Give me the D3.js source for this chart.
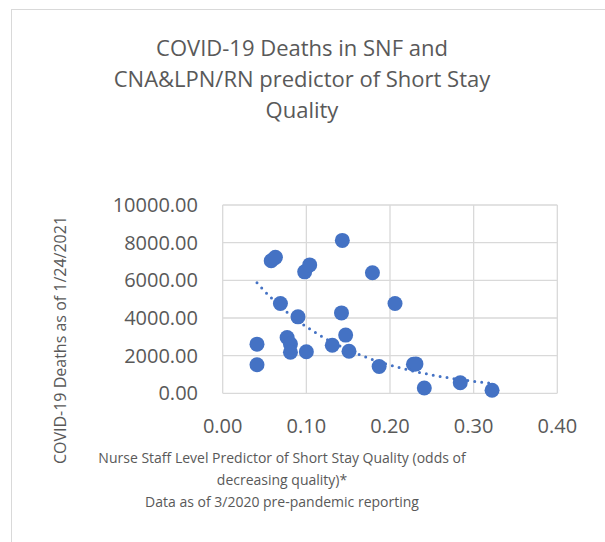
<!DOCTYPE html>
<html lang="en">

<head>
    <meta charset="UTF-8" />
    <script src="https://d3js.org/d3.v7.min.js"></script>
    <title>COVID-19 Deaths in SNF</title>
    <style>
        body { margin: 0; background: #fff; }
        text { font-family: "Open Sans", sans-serif; fill: #595959; }
    </style>
</head>

<body>
    <script>
        const width = 605,
            height = 542

        // data
        const staffPredictor = [0.041, 0.041, 0.058, 0.063, 0.069, 0.077, 0.081, 0.081, 0.090, 0.098, 0.104, 0.100, 0.131,
            0.143, 0.142, 0.147, 0.151, 0.179, 0.206, 0.187, 0.228, 0.231, 0.241, 0.284, 0.322]
        const deaths = [2610, 1520, 7040, 7220, 4770, 2960, 2620, 2180, 4060, 6450, 6820, 2210, 2550,
            8120, 4270, 3090, 2230, 6400, 4770, 1420, 1540, 1560, 280, 560, 160]
        const xTicks = [0, 0.1, 0.2, 0.3, 0.4]
        const yTicks = [0, 2000, 4000, 6000, 8000, 10000]
        const titleLines = ['COVID-19 Deaths in SNF and', 'CNA&LPN/RN predictor of Short Stay', 'Quality']
        const xTitleLines = ['Nurse Staff Level Predictor of Short Stay Quality (odds of', 'decreasing quality)*',
            'Data as of 3/2020 pre-pandemic reporting']
        const yTitle = 'COVID-19 Deaths as of 1/24/2021'

        const points = staffPredictor.map((x, i) => ({ x: x, y: deaths[i] }))

        const svg = d3.select('body').append('svg').attr('width', width).attr('height', height)

        // chart frame (cut off on the right and bottom)
        svg.append('rect').attr('x', 11.5).attr('y', 9.5).attr('width', 700).attr('height', 600)
            .attr('fill', 'none').attr('stroke', '#d9d9d9')

        const plot = { left: 222.7, right: 557.3, top: 205, bottom: 393.3 }

        const x = d3.scaleLinear().domain([0, 0.4]).range([plot.left, plot.right])
        const y = d3.scaleLinear().domain([0, 10000]).range([plot.bottom, plot.top])

        // gridlines
        svg.append('g').selectAll('line').data(yTicks).enter().append('line')
            .attr('x1', plot.left).attr('x2', plot.right)
            .attr('y1', d => y(d)).attr('y2', d => y(d))
            .attr('stroke', '#d9d9d9').attr('stroke-width', 1.3)
        svg.append('g').selectAll('line').data(xTicks).enter().append('line')
            .attr('y1', plot.top).attr('y2', plot.bottom)
            .attr('x1', d => x(d)).attr('x2', d => x(d))
            .attr('stroke', '#d9d9d9').attr('stroke-width', 1.3)

        // tick labels
        svg.append('g').selectAll('text').data(yTicks).enter().append('text')
            .attr('x', 198).attr('y', d => y(d) + 7)
            .attr('text-anchor', 'end').attr('font-size', 20)
            .text(d => d3.format('.2f')(d))
        svg.append('g').selectAll('text').data(xTicks).enter().append('text')
            .attr('x', d => x(d)).attr('y', 433)
            .attr('text-anchor', 'middle').attr('font-size', 20)
            .text(d => d3.format('.2f')(d))

        // exponential trendline (least squares on ln y)
        const mx = d3.mean(points, d => d.x)
        const ml = d3.mean(points, d => Math.log(d.y))
        const b = d3.sum(points, d => (d.x - mx) * (Math.log(d.y) - ml)) / d3.sum(points, d => (d.x - mx) ** 2)
        const a = Math.exp(ml - b * mx)
        const trend = d3.range(0, 101).map(i => {
            const xv = d3.min(staffPredictor) + (d3.max(staffPredictor) - d3.min(staffPredictor)) * i / 100
            return { x: xv, y: a * Math.exp(b * xv) }
        })
        svg.append('path').datum(trend)
            .attr('d', d3.line().x(d => x(d.x)).y(d => y(d.y)))
            .attr('fill', 'none').attr('stroke', '#4472c4').attr('stroke-width', 3)
            .attr('stroke-linecap', 'round').attr('stroke-dasharray', '0 7')

        // points
        svg.append('g').selectAll('circle').data(points).enter().append('circle')
            .attr('cx', d => x(d.x)).attr('cy', d => y(d.y)).attr('r', 7.5)
            .attr('fill', '#4472c4')

        // title
        svg.append('g').selectAll('text').data(titleLines).enter().append('text')
            .attr('x', 302).attr('y', (d, i) => 56 + i * 31)
            .attr('text-anchor', 'middle').attr('font-size', 22)
            .text(d => d)

        // axis titles
        svg.append('g').selectAll('text').data(xTitleLines).enter().append('text')
            .attr('x', 282).attr('y', (d, i) => 463 + i * 22)
            .attr('text-anchor', 'middle').attr('font-size', 14)
            .text(d => d)
        svg.append('text')
            .attr('transform', 'translate(66,340) rotate(-90)')
            .attr('text-anchor', 'middle').attr('font-size', 16)
            .text(yTitle)
    </script>
</body>

</html>
